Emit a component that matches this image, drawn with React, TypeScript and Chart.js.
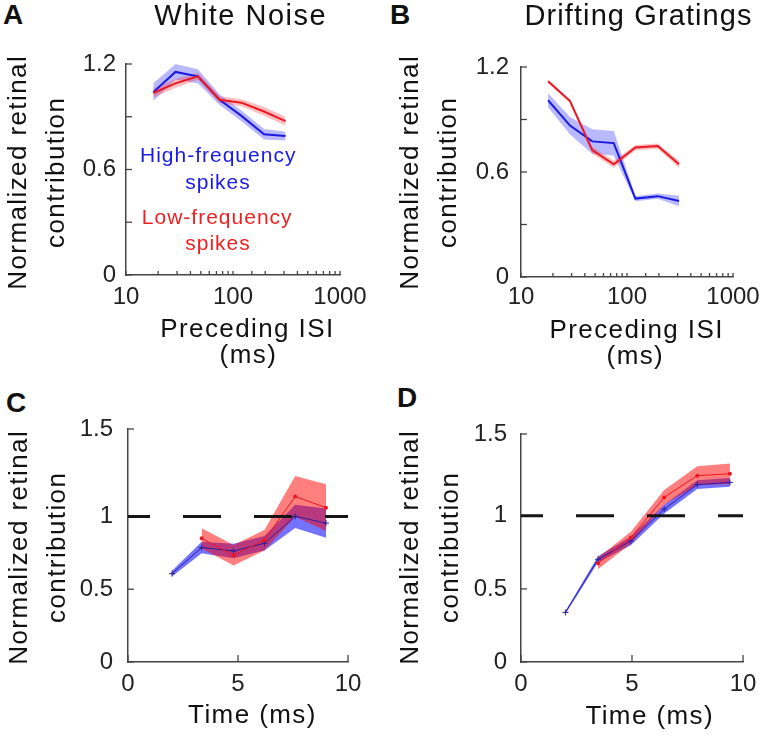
import React, { useEffect, useRef } from 'react';
import { Chart, registerables } from 'chart.js';

Chart.register(...registerables);

const FONT = '"Liberation Sans", Arial, Helvetica, sans-serif';
Chart.defaults.font.family = FONT;

// ---------- Panels A & B : preceding ISI (ms), log axis ----------
const isiBins = [18, 29, 47, 75, 120, 195, 310];
const isiDecadeLabels = [10, 100, 1000];
const contribTicks = [0, 0.3, 0.6, 0.9, 1.2];
const contribTickLabels = ['0', '', '0.6', '', '1.2'];

// White noise (A)
const wnHighMean = [1.04, 1.155, 1.13, 0.997, 0.905, 0.8, 0.79];
const wnHighErr = [0.05, 0.045, 0.04, 0.03, 0.03, 0.03, 0.025];
const wnLowMean = [1.035, 1.09, 1.13, 0.997, 0.98, 0.93, 0.875];
const wnLowErr = [0.025, 0.025, 0.02, 0.02, 0.02, 0.025, 0.025];

// Drifting gratings (B)
const dgHighMean = [1.01, 0.865, 0.775, 0.765, 0.448, 0.462, 0.434];
const dgHighErr = [0.04, 0.05, 0.07, 0.07, 0.015, 0.015, 0.03];
const dgLowMean = [1.118, 1.005, 0.725, 0.644, 0.74, 0.748, 0.644];
const dgLowErr = [0.01, 0.01, 0.02, 0.02, 0.015, 0.015, 0.02];

// ---------- Panels C & D : time (ms) ----------
const timeTicks = [0, 5, 10];
const timeYTickLabels = ['0', '0.5', '1', '1.5'];
const cYTicks = [0, 0.5, 1, 1.6];
const dYTicks = [0, 0.5, 1, 1.56];
const refLevel = 1;
const refSpan = [0, 10];

// White noise (C)
const wnTimeHigh = [2.0, 3.35, 4.8, 6.2, 7.6, 9.0];
const wnTimeHighMean = [0.607, 0.786, 0.762, 0.815, 1.0, 0.954];
const wnTimeHighErr = [0.02, 0.04, 0.05, 0.05, 0.08, 0.1];
const wnTimeLow = [3.35, 4.8, 6.2, 7.6, 9.0];
const wnTimeLowMean = [0.849, 0.733, 0.836, 1.137, 1.06];
const wnTimeLowErr = [0.07, 0.07, 0.07, 0.14, 0.16];

// Drifting gratings (D)
const dgTimeHigh = [2.0, 3.47, 4.95, 6.45, 7.94, 9.41];
const dgTimeHighMean = [0.339, 0.703, 0.828, 1.046, 1.213, 1.229];
const dgTimeHighErr = [0.01, 0.02, 0.03, 0.03, 0.03, 0.03];
const dgTimeLow = [3.47, 4.95, 6.45, 7.94, 9.41];
const dgTimeLowMean = [0.675, 0.851, 1.126, 1.275, 1.288];
const dgTimeLowErr = [0.04, 0.04, 0.05, 0.065, 0.07];

// ---------- styling ----------
const AXIS = '#444';
const TICK_TEXT = '#222';
const BLUE = 'rgb(25,25,225)';
const RED = 'rgb(235,25,35)';
const YW = 70, PT = 40, PR = 40, XH = 50;

const clear = 'rgba(0,0,0,0)';

function band(xs: number[], mean: number[], err: number[], color: string, order: number) {
  return [
    {
      data: xs.map((x, i) => ({ x, y: mean[i] + err[i] })),
      fill: '+1', backgroundColor: color, borderColor: clear, borderWidth: 0,
      pointRadius: 0, order, tension: 0,
    },
    {
      data: xs.map((x, i) => ({ x, y: mean[i] - err[i] })),
      fill: false, backgroundColor: clear, borderColor: clear, borderWidth: 0,
      pointRadius: 0, order, tension: 0,
    },
  ];
}

function line(xs: number[], mean: number[], color: string, width: number, order: number, pt?: any) {
  return {
    data: xs.map((x, i) => ({ x, y: mean[i] })),
    fill: false, borderColor: color, backgroundColor: color, borderWidth: width,
    pointRadius: pt ? pt.r : 0, pointStyle: pt ? pt.style : 'circle',
    pointBorderColor: color, pointBackgroundColor: color, pointBorderWidth: pt ? pt.bw : 0,
    order, tension: 0,
  };
}

const inwardTicks = {
  id: 'inwardTicks',
  beforeDatasetsDraw(chart: any, _args: any, opts: any) {
    const ctx = chart.ctx;
    const { left, bottom } = chart.chartArea;
    ctx.save();
    ctx.strokeStyle = AXIS;
    ctx.lineWidth = 1.3;
    const xs = chart.scales.x;
    xs.ticks.forEach((t: any) => {
      const px = xs.getPixelForValue(t.value);
      ctx.beginPath();
      ctx.moveTo(px, bottom);
      ctx.lineTo(px, bottom - opts.xLen);
      ctx.stroke();
    });
    const ys = chart.scales.y;
    ys.ticks.forEach((t: any) => {
      const py = ys.getPixelForValue(t.value);
      ctx.beginPath();
      ctx.moveTo(left, py);
      ctx.lineTo(left + opts.yLen, py);
      ctx.stroke();
    });
    ctx.restore();
  },
};

const isDecade = (v: number) => isiDecadeLabels.some((d) => Math.abs(d - v) < 1e-6);

const specs: any[] = [
  {
    area: { L: 126, R: 340, T: 64, B: 275 },
    xType: 'logarithmic', xMin: 10, xMax: 1000, xTickLen: 4,
    xLabel: (v: number) => (isDecade(v) ? String(v) : ''),
    yTicks: contribTicks, yLabels: contribTickLabels,
    xPad: 8, yPad: 10,
    datasets: [
      ...band(isiBins, wnHighMean, wnHighErr, 'rgba(60,60,255,0.36)', 6),
      ...band(isiBins, wnLowMean, wnLowErr, 'rgba(255,40,40,0.3)', 5),
      line(isiBins, wnHighMean, BLUE, 2, 3),
      line(isiBins, wnLowMean, RED, 2, 2),
    ],
  },
  {
    area: { L: 521, R: 733, T: 67, B: 277 },
    xType: 'logarithmic', xMin: 10, xMax: 1000, xTickLen: 4,
    xLabel: (v: number) => (isDecade(v) ? String(v) : ''),
    yTicks: contribTicks, yLabels: contribTickLabels,
    xPad: 6, yPad: 12,
    datasets: [
      ...band(isiBins, dgHighMean, dgHighErr, 'rgba(60,60,255,0.36)', 6),
      ...band(isiBins, dgLowMean, dgLowErr, 'rgba(255,40,40,0.3)', 5),
      line(isiBins, dgHighMean, BLUE, 2, 3),
      line(isiBins, dgLowMean, RED, 2, 2),
    ],
  },
  {
    area: { L: 128, R: 348, T: 429, B: 662 },
    xType: 'linear', xMin: 0, xMax: 10, xTicks: timeTicks, xTickLen: 7,
    xLabel: (v: number) => String(v),
    yTicks: cYTicks, yLabels: timeYTickLabels,
    xPad: 8, yPad: 15,
    datasets: [
      ...band(wnTimeHigh, wnTimeHighMean, wnTimeHighErr, 'rgba(0,0,255,0.55)', 6),
      ...band(wnTimeLow, wnTimeLowMean, wnTimeLowErr, 'rgba(255,0,0,0.5)', 5),
      line(wnTimeHigh, wnTimeHighMean, 'rgb(40,30,150)', 1, 3, { r: 3, style: 'cross', bw: 1 }),
      line(wnTimeLow, wnTimeLowMean, 'rgb(240,20,30)', 1, 2, { r: 2, style: 'circle', bw: 0 }),
      {
        data: refSpan.map((x) => ({ x, y: refLevel })), fill: false, borderColor: '#151515',
        borderWidth: 3, borderDash: [38, 33], borderDashOffset: 16, pointRadius: 0, order: 1,
      },
    ],
  },
  {
    area: { L: 521, R: 743, T: 434, B: 662 },
    xType: 'linear', xMin: 0, xMax: 10, xTicks: timeTicks, xTickLen: 7,
    xLabel: (v: number) => String(v),
    yTicks: dYTicks, yLabels: timeYTickLabels,
    xPad: 8, yPad: 14,
    datasets: [
      ...band(dgTimeHigh, dgTimeHighMean, dgTimeHighErr, 'rgba(0,0,255,0.55)', 6),
      ...band(dgTimeLow, dgTimeLowMean, dgTimeLowErr, 'rgba(255,0,0,0.5)', 5),
      line(dgTimeHigh, dgTimeHighMean, 'rgb(40,30,170)', 1, 3, { r: 3, style: 'cross', bw: 1 }),
      line(dgTimeLow, dgTimeLowMean, 'rgb(240,20,30)', 1, 2, { r: 2, style: 'circle', bw: 0 }),
      {
        data: refSpan.map((x) => ({ x, y: refLevel })), fill: false, borderColor: '#151515',
        borderWidth: 3, borderDash: [38, 33], borderDashOffset: 16, pointRadius: 0, order: 1,
      },
    ],
  },
];

function canvasBox(s: any) {
  const { L, R, T, B } = s.area;
  return { left: L - YW, top: T - PT, width: R - L + YW + PR, height: B - T + PT + XH };
}

function makeChart(canvas: HTMLCanvasElement, s: any) {
  const yTop = s.yTicks[s.yTicks.length - 1];
  const tickFont = { family: FONT, size: 24 };
  return new Chart(canvas, {
    type: 'line',
    data: { datasets: s.datasets },
    options: {
      responsive: false,
      maintainAspectRatio: false,
      animation: false,
      devicePixelRatio: 1,
      events: [],
      layout: { padding: { left: 0, top: PT, right: PR, bottom: 0 } },
      plugins: {
        legend: { display: false },
        tooltip: { enabled: false },
        title: { display: false },
        inwardTicks: { xLen: s.xTickLen, yLen: 6 },
      } as any,
      scales: {
        x: {
          type: s.xType,
          min: s.xMin,
          max: s.xMax,
          grid: { display: false, drawTicks: false },
          border: { display: true, color: AXIS, width: 1.5 },
          ticks: {
            autoSkip: false, maxRotation: 0, minRotation: 0, padding: s.xPad,
            font: tickFont, color: TICK_TEXT,
            callback: (v: any) => s.xLabel(Number(v)),
          },
          afterBuildTicks: s.xTicks
            ? (sc: any) => { sc.ticks = s.xTicks.map((v: number) => ({ value: v })); }
            : undefined,
          afterFit: (sc: any) => { sc.height = XH; },
        },
        y: {
          type: 'linear',
          min: 0,
          max: yTop,
          grid: { display: false, drawTicks: false },
          border: { display: true, color: AXIS, width: 1.5 },
          ticks: {
            autoSkip: false, padding: s.yPad, font: tickFont, color: TICK_TEXT,
            callback: (_v: any, i: number) => s.yLabels[i],
          },
          afterBuildTicks: (sc: any) => { sc.ticks = s.yTicks.map((v: number) => ({ value: v })); },
          afterFit: (sc: any) => { sc.width = YW; },
        },
      } as any,
    },
    plugins: [inwardTicks as any],
  } as any);
}

function Txt(p: { x: number; y: number; size: number; text: string; align?: string; color?: string; bold?: boolean; ls?: number }) {
  const ls = p.ls || 0;
  const style: any = {
    position: 'absolute',
    top: p.y - 0.8465 * p.size,
    fontSize: p.size,
    lineHeight: `${p.size}px`,
    whiteSpace: 'nowrap',
    color: p.color || '#111',
    fontWeight: p.bold ? 'bold' : 'normal',
    letterSpacing: ls,
  };
  if (p.align === 'left') {
    style.left = p.x;
  } else {
    style.left = p.x - 400 + ls / 2;
    style.width = 800;
    style.textAlign = 'center';
  }
  return <div style={style}>{p.text}</div>;
}

function VTxt(p: { bx: number; cy: number; size: number; text: string; ls?: number }) {
  const W = 400;
  const cx = p.bx - 0.3465 * p.size;
  const style: any = {
    position: 'absolute',
    left: cx - W / 2,
    top: p.cy - p.size / 2,
    width: W,
    height: p.size,
    lineHeight: `${p.size}px`,
    fontSize: p.size,
    textAlign: 'center',
    whiteSpace: 'nowrap',
    letterSpacing: p.ls || 0,
    paddingLeft: p.ls || 0,
    boxSizing: 'border-box',
    transform: 'rotate(-90deg)',
    color: '#111',
  };
  return <div style={style}>{p.text}</div>;
}

const AX = 26, ALS = 1.4;

export default function App() {
  const r0 = useRef<HTMLCanvasElement>(null);
  const r1 = useRef<HTMLCanvasElement>(null);
  const r2 = useRef<HTMLCanvasElement>(null);
  const r3 = useRef<HTMLCanvasElement>(null);
  const refs = [r0, r1, r2, r3];

  useEffect(() => {
    const charts = specs.map((s, i) => makeChart(refs[i].current as HTMLCanvasElement, s));
    return () => charts.forEach((c) => c.destroy());
  }, []);

  return (
    <div style={{ position: 'absolute', left: 0, top: 0, width: 766, height: 736, background: '#fff', overflow: 'hidden', fontFamily: FONT }}>
      {specs.map((s, i) => {
        const b = canvasBox(s);
        return (
          <canvas key={i} ref={refs[i]} width={b.width} height={b.height}
            style={{ position: 'absolute', left: b.left, top: b.top, width: b.width, height: b.height }} />
        );
      })}

      <Txt x={3} y={25} size={28} bold align="left" text="A" />
      <Txt x={390} y={25} size={28} bold align="left" text="B" />
      <Txt x={6} y={413} size={28} bold align="left" text="C" />
      <Txt x={397} y={408} size={28} bold align="left" text="D" />

      <Txt x={240} y={26} size={29} ls={1.5} text="White Noise" />
      <Txt x={638} y={26} size={29} ls={1.1} text="Drifting Gratings" />

      <VTxt bx={25.5} cy={172.5} size={AX} ls={ALS} text="Normalized retinal" />
      <VTxt bx={63.5} cy={172.5} size={AX} ls={ALS} text="contribution" />
      <VTxt bx={418} cy={172.5} size={AX} ls={ALS} text="Normalized retinal" />
      <VTxt bx={456.3} cy={172.5} size={AX} ls={ALS} text="contribution" />
      <VTxt bx={26.7} cy={547.5} size={AX} ls={ALS} text="Normalized retinal" />
      <VTxt bx={65} cy={547.5} size={AX} ls={ALS} text="contribution" />
      <VTxt bx={418} cy={548} size={AX} ls={ALS} text="Normalized retinal" />
      <VTxt bx={458} cy={548} size={AX} ls={ALS} text="contribution" />

      <Txt x={246.7} y={337.3} size={AX} ls={ALS} text="Preceding ISI" />
      <Txt x={247.7} y={363.3} size={AX} ls={ALS} text="(ms)" />
      <Txt x={636} y={338} size={AX} ls={ALS} text="Preceding ISI" />
      <Txt x={634.7} y={364} size={AX} ls={ALS} text="(ms)" />
      <Txt x={251.7} y={723} size={AX} ls={ALS} text="Time (ms)" />
      <Txt x={649} y={724} size={AX} ls={ALS} text="Time (ms)" />

      <Txt x={217.7} y={161.7} size={21} ls={1} color="rgb(25,25,235)" text="High-frequency" />
      <Txt x={217.5} y={188.3} size={21} ls={1} color="rgb(25,25,235)" text="spikes" />
      <Txt x={216.7} y={223.3} size={21} ls={1} color="rgb(240,30,30)" text="Low-frequency" />
      <Txt x={217.5} y={250} size={21} ls={1} color="rgb(240,30,30)" text="spikes" />
    </div>
  );
}
